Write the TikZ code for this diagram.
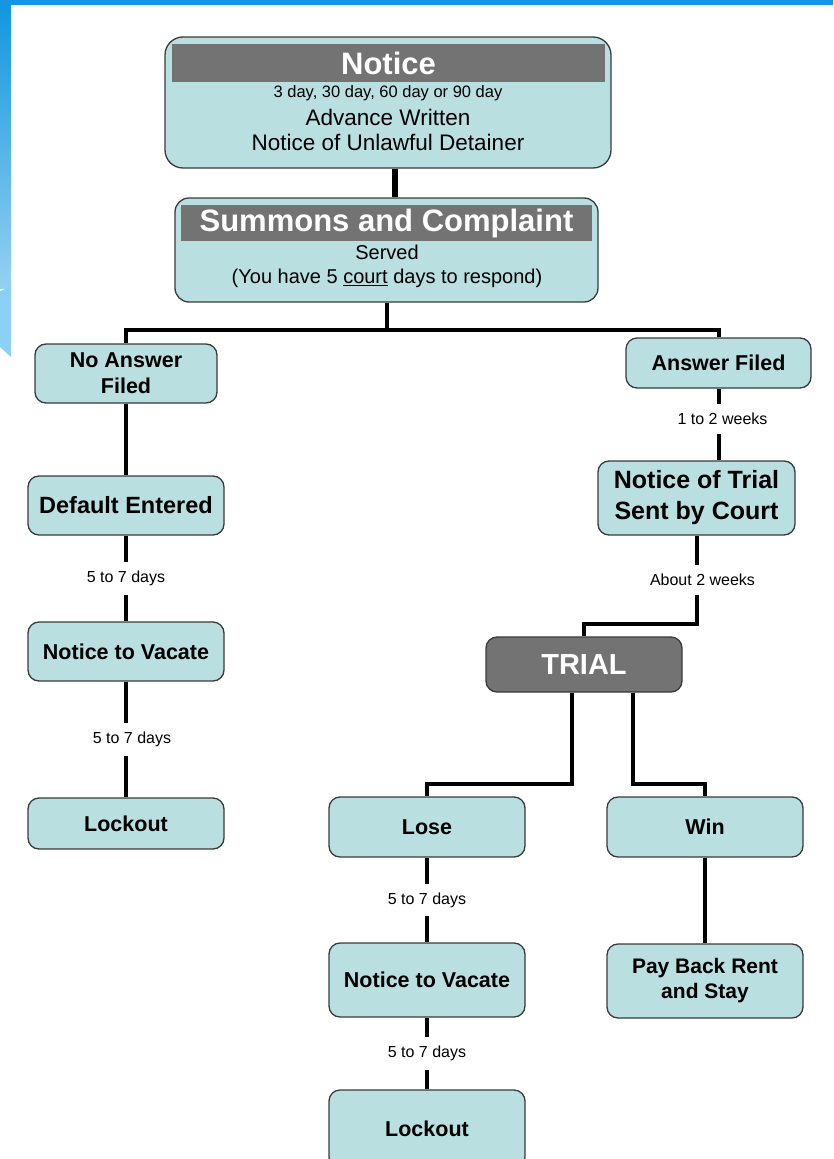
\documentclass[tikz,border=0pt]{standalone}
\usepackage{fontspec}
\setmainfont{Liberation Sans}
\usetikzlibrary{positioning}

\definecolor{boxfill}{HTML}{B9DFE1}
\definecolor{boxline}{HTML}{3A3A3A}
\definecolor{bannergrey}{HTML}{737373}
\definecolor{slideblue}{HTML}{1297E0}
\definecolor{slidelight}{HTML}{8DD0F6}

\tikzset{
    stage/.style={
        draw=boxline,
        fill=boxfill,
        line width=1.3pt,
        rounded corners=11pt,
        minimum width=196pt,
        inner sep=0pt,
        align=center,
        font=\bfseries\fontsize{21.5}{26}\selectfont,
    },
    banner/.style={
        fill=bannergrey,
        inner sep=0pt,
        text=white,
        font=\bfseries\fontsize{31}{31}\selectfont,
    },
    link/.style={line width=4pt},
    gap/.style={
        fill=white,
        inner xsep=2pt,
        inner ysep=9pt,
        font=\fontsize{16}{16}\selectfont,
    },
}

\begin{document}
\begin{tikzpicture}[x=1pt, y=-1pt]
    \useasboundingbox (0,0) rectangle (833,1159);

    % slide frame
    \fill[slideblue] (0,0) rectangle (833,5);
    \shade[top color=slideblue, bottom color=slideblue!45!white] (0,5) rectangle (11,288);
    \fill[slidelight] (0,291) -- (11,287) -- (11,357) .. controls (6,352) .. (0,347) -- cycle;

    % notice
    \node[stage, minimum width=446pt, minimum height=131pt, rounded corners=18pt] (notice) at (388,102.5) {};
    \node[banner, minimum width=433pt, minimum height=38pt] (noticehead) at (388.5,63) {Notice};
    \node[font=\fontsize{16.5}{17}\selectfont] (noticedays) at (388,93) {3 day, 30 day, 60 day or 90 day};
    \node[font=\fontsize{22.5}{25}\selectfont, align=center] (noticetext) at (388,129.5) {Advance Written\\Notice of Unlawful Detainer};

    % summons
    \node[stage, minimum width=423pt, minimum height=104pt, rounded corners=14pt] (summons) at (386.5,250) {};
    \node[banner, minimum width=411pt, minimum height=36pt] (summonshead) at (386.5,223) {Summons and Complaint};
    \node[font=\fontsize{20}{24}\selectfont, align=center] (summonstext) at (387,266) {Served\\(You have 5 \underline{court} days to respond)};

    % no answer branch
    \node[stage, minimum width=182pt, minimum height=59pt] (noanswer) at (126,373.5) {No Answer\\Filed};
    \node[stage, minimum height=59pt, font=\bfseries\fontsize{23.5}{26}\selectfont] (default) at (126,505.5) {Default Entered};
    \node[stage, minimum height=59pt] (vacateleft) at (126,651.5) {Notice to Vacate};
    \node[stage, minimum height=51pt] (lockoutleft) at (126,823.5) {Lockout};

    % answer branch
    \node[stage, minimum width=185pt, minimum height=50pt] (answer) at (718.5,363) {Answer Filed};
    \node[stage, minimum width=197pt, minimum height=74pt, font=\bfseries\fontsize{25}{31}\selectfont] (trialnotice) at (696.5,498) {Notice of Trial\\Sent by Court};
    \node[stage, minimum height=55pt, fill=bannergrey, text=white, font=\bfseries\fontsize{29}{29}\selectfont] (trial) at (584,664.5) {TRIAL};
    \node[stage, minimum height=60pt] (lose) at (427,827) {Lose};
    \node[stage, minimum height=60pt] (win) at (705,827) {Win};
    \node[stage, minimum height=74pt] (vacateright) at (427,980) {Notice to Vacate};
    \node[stage, minimum height=74pt, font=\bfseries\fontsize{21}{25}\selectfont] (payback) at (705,981) {Pay Back Rent\\and Stay};
    \node[stage, minimum height=78pt] (lockoutright) at (427,1129) {Lockout};

    % connectors
    \draw[line width=6pt] ([xshift=7pt]notice.south) -- ([xshift=7pt]notice.south |- summons.north);
    \draw[link] (summons.south) -- ++(0,27) coordinate (split);
    \draw[link] (noanswer.north) |- (split) -| (answer.north);
    \draw[link] (noanswer.south) -- (default.north);
    \draw[link] (default.south) -- node[gap] {5 to 7 days} (vacateleft.north);
    \draw[link] (vacateleft.south) -- node[gap, xshift=6pt] {5 to 7 days} (lockoutleft.north);
    \draw[link] (answer.south) -- node[gap, pos=0.42, xshift=4pt] {1 to 2 weeks} (answer.south |- trialnotice.north);
    \draw[link] (trialnotice.south) -- node[gap, xshift=6pt] {About 2 weeks} ++(0,88) -| (trial.north);
    \draw[link] ([xshift=-12pt]trial.south) -- ++(0,91) -| (lose.north);
    \draw[link] ([xshift=49pt]trial.south) -- ++(0,91) -| (win.north);
    \draw[link] (lose.south) -- node[gap] {5 to 7 days} (vacateright.north);
    \draw[link] (vacateright.south) -- node[gap] {5 to 7 days} (lockoutright.north);
    \draw[link] (win.south) -- (payback.north);
\end{tikzpicture}
\end{document}
